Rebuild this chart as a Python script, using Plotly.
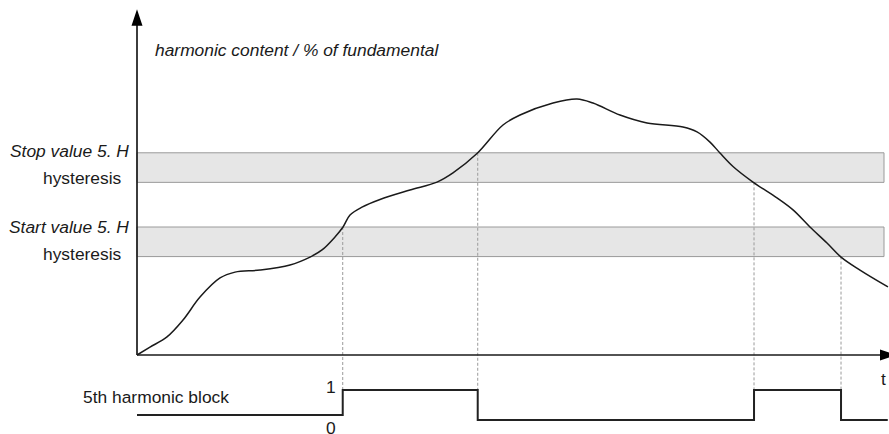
import plotly.graph_objects as go

# harmonic content curve (t in % of time span, h in % of fundamental)
t_curve = [0, 1.73, 4.0, 6.13, 8.4, 11.07, 13.07, 16.4, 20.4, 23.07, 24.67, 26.4,
           27.47, 28.4, 30.0, 32.4, 36.4, 40.0, 42.13, 45.33, 48.8, 51.07, 55.47,
           58.67, 60.8, 64.4, 68.0, 72.8, 74.67, 76.4, 77.73, 79.47, 82.13, 85.33,
           87.47, 89.73, 92.0, 93.87, 96.4, 100.13]
h_curve = [0, 3.1, 7.1, 13.7, 22.7, 30.2, 32.5, 33.3, 35.3, 38.4, 41.2, 46.3,
           50.2, 54.9, 58.0, 61.0, 64.7, 67.8, 71.4, 79.0, 90.2, 94.1, 98.8,
           100.4, 98.8, 94.1, 91.0, 89.4, 87.5, 83.5, 79.2, 73.9, 67.8, 61.6,
           56.9, 50.2, 43.9, 38.4, 33.3, 26.7]

# hysteresis bands (lower, upper)
stop_band = (67.7, 79.3)
start_band = (38.6, 50.2)

# switching instants and block signal
t_switch = [27.43, 45.43, 82.27, 93.87]
switch_level = [start_band[1], stop_band[1], stop_band[0], start_band[0]]
t_block = [0, 27.43, 45.43, 82.27, 93.87, 100.1]
v_block = [0, 1, -0.2, 1, -0.2, -0.2]

X_RANGE = [-18.267, 100.267]
Y_RANGE = [-30.98, 139.22]

# lower lane for the block signal
LANE0, LANE_AMP = -23.53, 9.8


def lane(v):
    return LANE0 + LANE_AMP * v


INK = "#1a1a1a"
FONT = "Liberation Sans, Arial, sans-serif"

fig = go.Figure()

for tc, lv in zip(t_switch, switch_level):
    fig.add_trace(go.Scatter(
        x=[tc, tc], y=[lv, lane(1)], mode="lines",
        line=dict(color="#9a9a9a", width=1, dash="3px,2px"),
        hoverinfo="skip"))

fig.add_trace(go.Scatter(
    x=t_curve, y=h_curve, mode="lines",
    line=dict(color=INK, width=1.5, shape="spline", smoothing=1.0),
    hoverinfo="skip"))

fig.add_trace(go.Scatter(
    x=t_block, y=[lane(v) for v in v_block], mode="lines",
    line=dict(color="#222222", width=2, shape="hv"),
    hoverinfo="skip"))

shapes = []
for lo, hi in (stop_band, start_band):
    shapes.append(dict(type="rect", xref="x", yref="y", x0=0, x1=99.6, y0=lo, y1=hi,
                       fillcolor="#e6e6e6", line=dict(color="#9a9a9a", width=1),
                       layer="below"))

# axes with arrowheads
shapes.append(dict(type="line", xref="x", yref="y", x0=0, x1=0, y0=0, y1=134,
                   line=dict(color=INK, width=1.7)))
shapes.append(dict(type="line", xref="x", yref="y", x0=0, x1=101.2, y0=0, y1=0,
                   line=dict(color=INK, width=1.7)))
shapes.append(dict(type="path", xref="x", yref="y", xsizemode="pixel", ysizemode="pixel",
                   xanchor=0, yanchor=135.6, path="M0,0 L-5.5,-16.5 L5.5,-16.5 Z",
                   fillcolor="black", line=dict(width=0)))
shapes.append(dict(type="path", xref="x", yref="y", xsizemode="pixel", ysizemode="pixel",
                   xanchor=101.2, yanchor=0, path="M0,0 L-16,5.5 L-16,-5.5 Z",
                   fillcolor="black", line=dict(width=0)))

ann = [
    dict(x=2.3, y=119.6, text="<i>harmonic content / % of fundamental</i>", xanchor="left"),
    dict(x=-0.93, y=80.1, text="<i>Stop value 5. H</i>", xanchor="right"),
    dict(x=-1.87, y=69.5, text="hysteresis", xanchor="right"),
    dict(x=-0.93, y=50.3, text="<i>Start value 5. H</i>", xanchor="right"),
    dict(x=-1.87, y=39.6, text="hysteresis", xanchor="right"),
    dict(x=-7.3, y=-16.5, text="5th harmonic block", xanchor="left"),
    dict(x=25.87, y=-12.4, text="1", xanchor="center"),
    dict(x=25.87, y=-28.6, text="0", xanchor="center"),
    dict(x=99.47, y=-9.4, text="t", xanchor="center"),
]
for a in ann:
    a.update(xref="x", yref="y", showarrow=False, yanchor="middle", borderpad=0,
             font=dict(family=FONT, size=17.4, color=INK))

fig.update_layout(
    width=889, height=434, autosize=False,
    margin=dict(l=0, r=0, t=0, b=0),
    paper_bgcolor="white", plot_bgcolor="white",
    showlegend=False,
    xaxis=dict(range=X_RANGE, visible=False, fixedrange=True),
    yaxis=dict(range=Y_RANGE, visible=False, fixedrange=True),
    shapes=shapes, annotations=ann,
)

fig.write_html("out.html", config={"responsive": False, "displayModeBar": False},
               post_script="document.body.style.margin='0';")
